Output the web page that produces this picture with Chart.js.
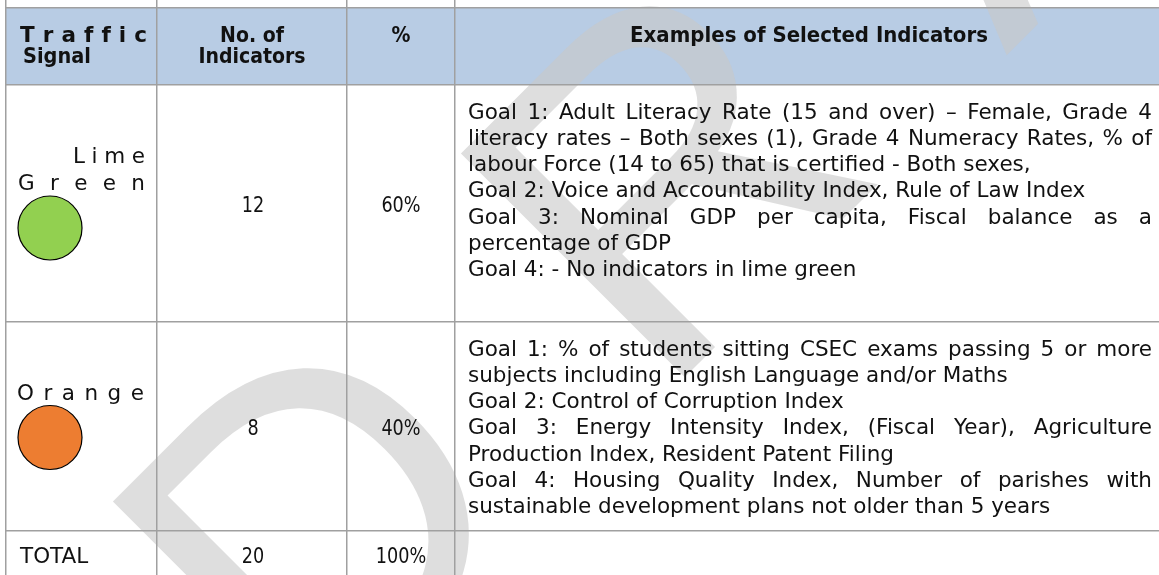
<!DOCTYPE html>
<html>
<head>
<meta charset="utf-8">
<script src="https://cdn.jsdelivr.net/npm/chart.js"></script>
<style>
  html, body { margin: 0; padding: 0; background: #fff; }
  #wrap { width: 1159px; height: 575px; position: relative; }
</style>
</head>
<body>
<div id="wrap"><canvas id="myChart"></canvas></div>
<script>
// table content
const headers = [["Traffic", "Signal"], ["No. of", "Indicators"], ["%"], ["Examples of Selected Indicators"]];
const signals = ["Lime Green", "Orange", "TOTAL"];
const signalColors = ["#92d050", "#ed7d31"];
const indicatorCounts = [12, 8, 20];
const indicatorShares = [60, 40, 100];
const examples = [
  [
    "Goal 1: Adult Literacy Rate (15 and over) – Female, Grade 4",
    "literacy rates – Both sexes (1), Grade 4 Numeracy Rates, % of",
    "labour Force (14 to 65) that is certified - Both sexes,",
    "Goal 2: Voice and Accountability Index, Rule of Law Index",
    "Goal 3: Nominal GDP per capita, Fiscal balance as a",
    "percentage of GDP",
    "Goal 4: - No indicators in lime green"
  ],
  [
    "Goal 1: % of students sitting CSEC exams passing 5 or more",
    "subjects including English Language and/or Maths",
    "Goal 2: Control of Corruption Index",
    "Goal 3: Energy Intensity Index, (Fiscal Year), Agriculture",
    "Production Index, Resident Patent Filing",
    "Goal 4: Housing Quality Index, Number of parishes with",
    "sustainable development plans not older than 5 years"
  ],
  []
];

// layout (pixel units of the scales)
const colEdges = [6, 157, 347, 455];
const rowEdges = [8, 85, 322, 531];
const W = 1159, H = 575;
const FONT = '"DejaVu Sans", sans-serif';
const labelSpans = [[[73, 145], [18, 145]], [[17, 144]]];
const circleR = 32;

function spreadText(ctx, text, x0, x1, y) {
  const chars = text.split("");
  const widths = chars.map(c => ctx.measureText(c).width);
  const total = widths.reduce((a, b) => a + b, 0);
  const gap = chars.length > 1 ? (x1 - x0 - total) / (chars.length - 1) : 0;
  let x = x0;
  ctx.textAlign = "left";
  chars.forEach((c, i) => { ctx.fillText(c, x, y); x += widths[i] + gap; });
}

function lineText(ctx, text, x0, x1, y, justify) {
  const words = text.split(" ");
  const widths = words.map(w => ctx.measureText(w).width);
  const natural = ctx.measureText(text).width;
  const space = ctx.measureText(" ").width;
  ctx.textAlign = "left";
  let sx = natural > x1 - x0 ? (x1 - x0) / natural : 1;
  let gap = space * sx;
  if (justify && words.length > 1 && sx === 1) {
    gap = (x1 - x0 - widths.reduce((a, b) => a + b, 0)) / (words.length - 1);
  }
  let x = x0;
  words.forEach((w, i) => {
    ctx.save(); ctx.translate(x, y); ctx.scale(sx, 1); ctx.fillText(w, 0, 0); ctx.restore();
    x += widths[i] * sx + gap;
  });
}

function centerText(ctx, text, cx, y, sx) {
  ctx.save(); ctx.translate(cx, y); ctx.scale(sx, 1);
  ctx.textAlign = "center"; ctx.fillText(text, 0, 0); ctx.restore();
}

function rowCenter(r) { return (rowEdges[r + 1] + rowEdges[r + 2]) / 2; }

// circles for the signal rows
const circleData = signalColors.map((c, i) => {
  const n = signals[i].split(" ").length;
  const top = rowCenter(i) - 2.5 - (n * 27 + 2 * circleR) / 2;
  return { x: colEdges[0] + 12 + circleR, y: top + n * 27 + circleR };
});

const tablePlugin = {
  id: "table",
  beforeDraw(chart) {
    const ctx = chart.ctx, xs = chart.scales.x, ys = chart.scales.y;
    ctx.save();
    ctx.fillStyle = "#b8cce4";
    const hx = xs.getPixelForValue(colEdges[0]), hy = ys.getPixelForValue(rowEdges[0]);
    ctx.fillRect(hx, hy, xs.getPixelForValue(W) - hx, ys.getPixelForValue(rowEdges[1]) - hy);
    // watermark
    ctx.translate(310, 752);
    ctx.rotate(-Math.PI / 4);
    ctx.font = '460px "Liberation Sans", sans-serif';
    ctx.letterSpacing = "160px";
    ctx.fillStyle = "rgba(200,200,200,0.6)";
    ctx.textAlign = "left";
    ctx.fillText("DRAFT", 0, 0);
    ctx.restore();
  },
  afterDraw(chart) {
    const ctx = chart.ctx, xs = chart.scales.x, ys = chart.scales.y;
    const colL = i => xs.getPixelForValue(colEdges[i]);
    const colR = i => xs.getPixelForValue(i + 1 < colEdges.length ? colEdges[i + 1] : W);
    const rowT = r => ys.getPixelForValue(rowEdges[r]);
    ctx.save();
    ctx.fillStyle = "#111";
    ctx.textBaseline = "alphabetic";

    // header
    ctx.font = "bold 21.5px " + FONT;
    const hb = rowT(0) + 33.7;
    spreadText(ctx, headers[0][0], colL(0) + 14, colR(0) - 10, hb);
    ctx.save(); ctx.translate(colL(0) + 17, hb + 21.7); ctx.scale(0.9, 1);
    ctx.textAlign = "left"; ctx.fillText(headers[0][1], 0, 0); ctx.restore();
    for (let c = 1; c < headers.length; c++) {
      headers[c].forEach((t, k) => centerText(ctx, t, (colL(c) + colR(c)) / 2 + (c === 3 ? 2 : 0), hb + k * 21.7, c === 3 ? 0.92 : 0.88));
    }

    // body rows
    ctx.font = "21.5px " + FONT;
    signals.forEach((s, r) => {
      const cy = rowCenter(r);
      if (r < signalColors.length) {
        const words = s.split(" ");
        const top = cy - 2.5 - (words.length * 27 + 2 * circleR) / 2;
        words.forEach((w, k) => {
          const span = labelSpans[r][k];
          spreadText(ctx, w, xs.getPixelForValue(span[0]), xs.getPixelForValue(span[1]), top + (k + 1) * 27 - 6);
        });
      } else {
        ctx.textAlign = "left";
        ctx.fillText(s, colL(0) + 14, rowT(r + 1) + 32);
      }
      const nb = r < signalColors.length ? cy + 8 : rowT(r + 1) + 32;
      centerText(ctx, String(indicatorCounts[r]), (colL(1) + colR(1)) / 2 + 1, nb, 0.82);
      centerText(ctx, indicatorShares[r] + "%", (colL(2) + colR(2)) / 2, nb, 0.82);

      const lines = examples[r];
      const first = rowT(r + 1) + 33.5;
      lines.forEach((t, k) => {
        const next = lines[k + 1];
        const justify = next !== undefined && !next.startsWith("Goal");
        lineText(ctx, t, colL(3) + 13, colR(3) - 7, first + k * 26.3, justify);
      });
    });
    ctx.restore();
  }
};

new Chart("myChart", {
  type: "scatter",
  data: {
    datasets: [{
      data: circleData,
      pointRadius: circleR,
      pointHoverRadius: circleR,
      backgroundColor: signalColors,
      borderColor: "#000",
      borderWidth: 1.2
    }]
  },
  options: {
    responsive: true,
    maintainAspectRatio: false,
    animation: false,
    events: [],
    layout: { padding: { left: colEdges[0], right: 0, top: 0, bottom: 0 }, autoPadding: false },
    plugins: { legend: { display: false }, tooltip: { enabled: false } },
    scales: {
      x: {
        type: "linear", min: colEdges[0], max: W,
        ticks: { display: false },
        border: { display: false },
        grid: { drawTicks: false, color: "#a0a0a0", lineWidth: 1.5 },
        afterBuildTicks: s => { s.ticks = colEdges.map(v => ({ value: v })); }
      },
      y: {
        type: "linear", min: 0, max: H, reverse: true,
        ticks: { display: false },
        border: { display: false },
        grid: { drawTicks: false, color: "#a0a0a0", lineWidth: 1.5 },
        afterBuildTicks: s => { s.ticks = rowEdges.map(v => ({ value: v })); }
      }
    }
  },
  plugins: [tablePlugin]
});
</script>
</body>
</html>
